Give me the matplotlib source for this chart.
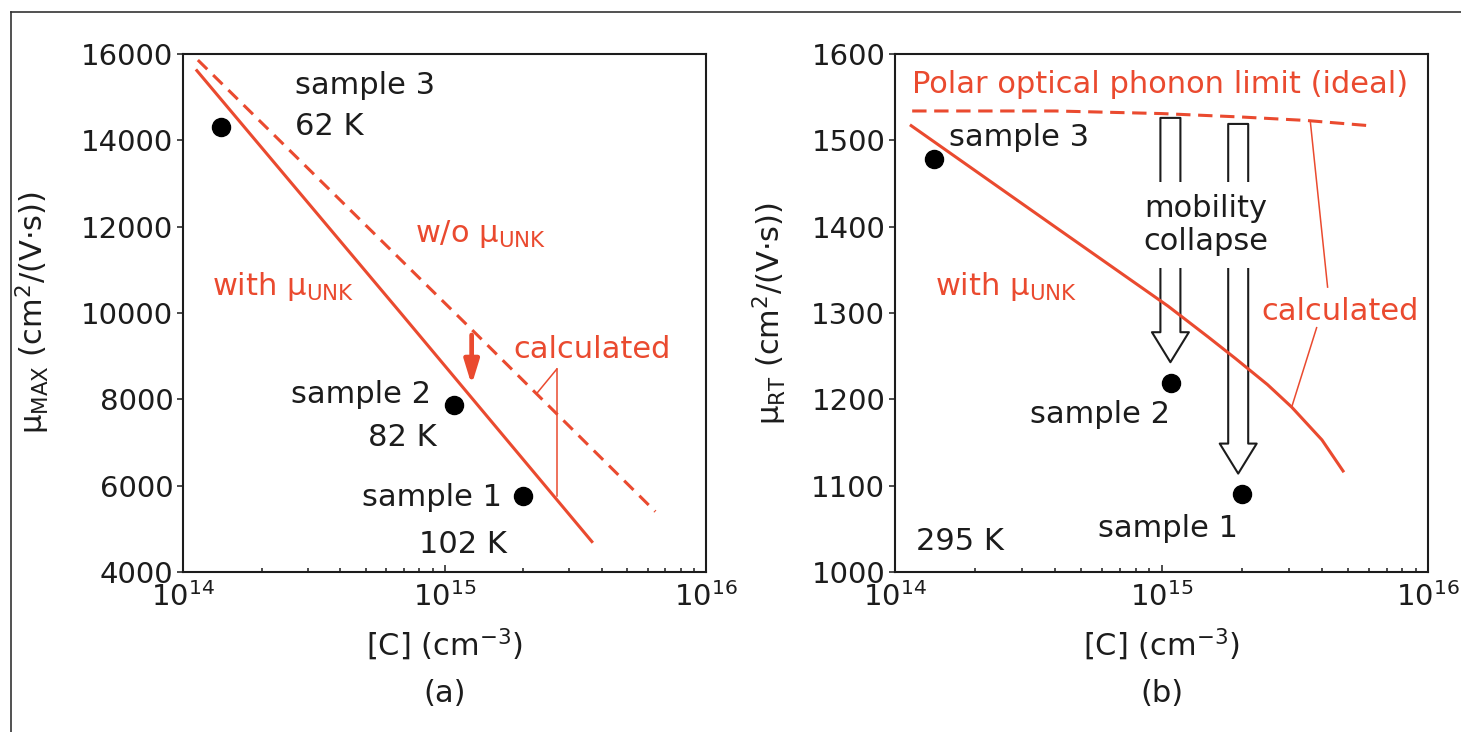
"""C 濃度と移動度 (a) μ_MAX, (b) μ_RT → out.png"""
import matplotlib

matplotlib.use("Agg")
import matplotlib.pyplot as plt
import numpy as np
from matplotlib.lines import Line2D
from matplotlib.ticker import LogLocator, MultipleLocator, NullFormatter

plt.rcParams["font.family"] = ["DejaVu Sans"]
plt.rcParams["mathtext.fontset"] = "dejavusans"

RED = "#ea4a2f"
INK = "#1c1c1c"
W, H = 1461, 732

# samples 1, 2, 3
carbon = [2.0e15, 1.09e15, 1.4e14]
mu_max = [5770, 7860, 14300]
mu_rt = [1090, 1219, 1478]

# (a) calculated mu_MAX
a_with_c = [1.13e14, 6.8e14, 3.66e15]
a_with_mu = [15615, 10000, 4705]
a_wo_c = [1.14e14, 1.31e15, 6.4e15]
a_wo_mu = [15860, 9538, 5400]

# (b) calculated mu_RT
b_with_c = [1.15e14, 4.02e14, 1.058e15, 1.5e15, 1.90e15, 2.5e15, 3.08e15, 4.0e15, 4.80e15]
b_with_mu = [1517, 1399, 1308, 1272, 1247, 1217, 1191, 1153, 1117]
b_pop_c = [1.16e14, 4.0e14, 1.0e15, 2.0e15, 3.5e15, 6.0e15]
b_pop_mu = [1534, 1534, 1531, 1527, 1523, 1517]

# (a) red arrow: dashed -> solid
drop_c = 1.27e15
drop_from, drop_to = 9491, 8333

# (b) collapse arrows
collapse_c = [1.08e15, 1.94e15]
collapse_top = [1526, 1519]
collapse_tip = [1243, 1114]

# labels: text, x, baseline y, ha, colour
texts_a = [
    ("sample 3", 2.67e14, 15077, "left", INK),
    ("62 K", 2.67e14, 14115, "left", INK),
    ("w/o μ$_{\\mathrm{UNK}}$", 7.7e14, 11654, "left", RED),
    ("with μ$_{\\mathrm{UNK}}$", 1.29e14, 10423, "left", RED),
    ("calculated", 1.84e15, 8962, "left", RED),
    ("sample 2", 8.9e14, 7922, "right", INK),
    ("82 K", 9.3e14, 6930, "right", INK),
    ("sample 1", 1.66e15, 5519, "right", INK),
    ("102 K", 1.73e15, 4434, "right", INK),
]
texts_b = [
    ("Polar optical phonon limit (ideal)", 1.16e14, 1555, "left", RED),
    ("sample 3", 1.59e14, 1494, "left", INK),
    ("with μ$_{\\mathrm{UNK}}$", 1.41e14, 1321, "left", RED),
    ("calculated", 2.37e15, 1292, "left", RED),
    ("sample 2", 1.08e15, 1173, "right", INK),
    ("sample 1", 1.94e15, 1041, "right", INK),
    ("295 K", 1.2e14, 1026, "left", INK),
]

# thin pointer lines from "calculated" to the curves
ptr_a = [([2.69e15, 2.26e15], [8703, 8147]), ([2.69e15, 2.69e15], [8703, 5750])]
ptr_b = [([3.62e15, 4.2e15], [1521, 1330]), ([3.82e15, 3.08e15], [1283, 1191])]


def setup(ax, ylim, ystep, ylabel, label_x, panel):
    ax.set_xscale("log")
    ax.set_xlim(1e14, 1e16)
    ax.set_ylim(*ylim)
    ax.yaxis.set_major_locator(MultipleLocator(ystep))
    ax.xaxis.set_major_locator(LogLocator(base=10, numticks=5))
    ax.xaxis.set_minor_locator(LogLocator(base=10, subs=np.arange(2, 10), numticks=30))
    ax.xaxis.set_minor_formatter(NullFormatter())
    for s in ax.spines.values():
        s.set_linewidth(1.5)
        s.set_color(INK)
    ax.tick_params(axis="x", which="both", direction="in", labelsize=21, pad=7,
                   width=1.1, colors=INK)
    ax.tick_params(axis="x", which="major", length=5)
    ax.tick_params(axis="x", which="minor", length=3)
    ax.tick_params(axis="y", direction="out", length=4, width=1.1, labelsize=21,
                   pad=3, colors=INK)
    ax.set_xlabel("[C] (cm$^{-3}$)", fontsize=22, color=INK, va="center")
    ax.xaxis.set_label_coords(0.5, -0.14)
    ax.set_ylabel(ylabel, fontsize=22, color=INK, va="center")
    ax.yaxis.set_label_coords(label_x, 0.5)
    ax.text(0.5, -0.235, panel, transform=ax.transAxes, fontsize=22, color=INK,
            ha="center", va="center")


def put_texts(ax, items):
    for s, x, y, ha, c in items:
        ax.text(x, y, s, fontsize=22, color=c, ha=ha, va="baseline", zorder=7)


fig = plt.figure(figsize=(W / 100, H / 100), dpi=100)
fig.patch.set_facecolor("white")
ax_a = fig.add_axes([183 / W, 1 - 572 / H, 523 / W, 518 / H])
ax_b = fig.add_axes([895 / W, 1 - 572 / H, 533 / W, 518 / H])

# ---- (a)
setup(ax_a, (4000, 16000), 2000, "μ$_{\\mathrm{MAX}}$ (cm$^{2}$/(V·s))", -0.287, "(a)")
ax_a.plot(a_with_c, a_with_mu, color=RED, lw=2.2, zorder=5)
ax_a.plot(a_wo_c, a_wo_mu, color=RED, lw=2.2, dashes=(4.3, 2.7), zorder=5)
for xs, ys in ptr_a:
    ax_a.plot(xs, ys, color=RED, lw=1.1, zorder=5)
ax_a.annotate("", xy=(drop_c, drop_to), xytext=(drop_c, drop_from),
              arrowprops=dict(arrowstyle="-|>,head_length=0.65,head_width=0.2",
                              mutation_scale=22, color=RED, lw=3.4,
                              shrinkA=0, shrinkB=0), zorder=6)
ax_a.plot(carbon, mu_max, "o", color="black", ms=13, zorder=8)
put_texts(ax_a, texts_a)

# ---- (b)
setup(ax_b, (1000, 1600), 100, "μ$_{\\mathrm{RT}}$ (cm$^{2}$/(V·s))", -0.235, "(b)")
ax_b.plot(b_with_c, b_with_mu, color=RED, lw=2.2, zorder=5)
ax_b.plot(b_pop_c, b_pop_mu, color=RED, lw=2.2, dashes=(4.7, 2.5), zorder=5)
for xs, ys in ptr_b:
    ax_b.plot(xs, ys, color=RED, lw=1.1, zorder=5)
for x, top, tip in zip(collapse_c, collapse_top, collapse_tip):
    ax_b.annotate("", xy=(x, tip), xytext=(x, top),
                  arrowprops=dict(arrowstyle="simple,head_length=1.08,head_width=1.33,tail_width=0.72",
                                  mutation_scale=20, fc="white", ec=INK, lw=1.5,
                                  shrinkA=0, shrinkB=0), zorder=3)
ax_b.text(1.47e15, 1402, "mobility\ncollapse", fontsize=22, color=INK, ha="center",
          va="center", zorder=4,
          bbox=dict(boxstyle="square,pad=0.38", fc="white", ec="none"))
ax_b.plot(carbon, mu_rt, "o", color="black", ms=13, zorder=8)
put_texts(ax_b, texts_b)

# outer frame (top and left edges only visible)
fig.add_artist(Line2D([11 / W, 1], [1 - 12 / H, 1 - 12 / H], transform=fig.transFigure,
                      color="#333333", lw=1.2))
fig.add_artist(Line2D([11 / W, 11 / W], [0, 1 - 12 / H], transform=fig.transFigure,
                      color="#333333", lw=1.2))

fig.savefig("out.png", dpi=100, facecolor="white")
plt.close(fig)
